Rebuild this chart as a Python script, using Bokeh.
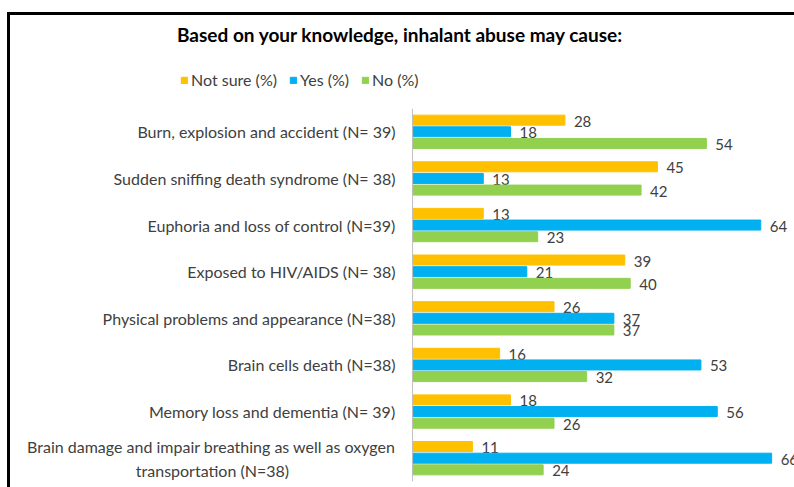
from bokeh.plotting import figure
from bokeh.layouts import column
from bokeh.models import FactorRange, Range1d, Legend, LegendItem, ColumnDataSource, Span
from bokeh.transform import dodge
from bokeh.core.properties import value
from bokeh.embed import file_html
from bokeh.resources import INLINE

title_text = "Based on your knowledge, inhalant  abuse may cause:"
NB = "\u00a0"
categories = [
    "Burn, explosion and accident (N= 39)",
    "Sudden sniffing death syndrome (N= 38)",
    "Euphoria and loss of control (N=39)",
    "Exposed to HIV/AIDS (N= 38)",
    "Physical problems and appearance (N=38)",
    "Brain cells death (N=38)",
    "Memory loss and dementia (N= 39)",
    "Brain damage and impair breathing as well as oxygen transportation (N=38)",
]
# tick labels as drawn (long one wrapped onto two centred lines)
tick_labels = categories[:-1] + [
    "Brain damage and impair breathing as well as oxygen\ntransportation (N=38)" + NB * 26
]
series_names = ["Not sure (%)", "Yes (%)", "No (%)"]
not_sure = [28, 45, 13, 39, 26, 16, 18, 11]
yes = [18, 13, 64, 21, 37, 53, 56, 66]
no = [54, 42, 23, 40, 37, 32, 26, 24]

colors = ["#FFC000", "#00B0F0", "#92D050"]
offsets = [0.25, 0.0, -0.25]
FONT = "Lato"
TXT = "#404040"

src = ColumnDataSource(dict(
    cat=categories, tick=tick_labels,
    ns=not_sure, yes=yes, no=no,
    ns_l=[str(v) for v in not_sure],
    yes_l=[str(v) for v in yes],
    no_l=[str(v) for v in no],
))

# ---- header: title + legend ----
head = figure(width=784, height=93, output_backend="svg", toolbar_location=None,
              x_range=Range1d(0, 1), y_range=Range1d(0, 1),
              min_border_left=0, min_border_right=0, min_border_bottom=0,
              min_border_top=18)
head.axis.visible = False
head.grid.visible = False
head.outline_line_color = None
head.title.text = title_text
head.title.text_font = FONT
head.title.text_font_style = "bold"
head.title.text_font_size = "19px"
head.title.text_color = "#000000"
head.title.align = "center"

items = []
for name, col, col_c in zip(series_names, ["ns", "yes", "no"], colors):
    # legend-only renderers: values lie far outside the header's 0..1 ranges
    rr = head.hbar(y=col, right=col, left=col, height=0.2, color=col_c, source=src)
    items.append(LegendItem(label=name, renderers=[rr]))
legend = Legend(items=items, orientation="horizontal", location=(170, 19),
                border_line_color=None, background_fill_alpha=0,
                label_text_font=FONT, label_text_font_size="16px",
                label_text_color=TXT, glyph_width=8, glyph_height=8,
                spacing=12, padding=4, margin=0, label_standoff=3)
head.add_layout(legend, "center")

# ---- main chart ----
p = figure(width=784, height=379, output_backend="svg", toolbar_location=None,
           y_range=FactorRange(factors=categories[::-1]),
           x_range=Range1d(-73.9, 70.2),
           min_border_left=0, min_border_right=0, min_border_bottom=6,
           min_border_top=0)

for col, lab, col_c, off in zip(["ns", "yes", "no"], ["ns_l", "yes_l", "no_l"],
                                colors, offsets):
    p.hbar(y=dodge("cat", off, range=p.y_range), right=col, left=0,
           height=0.215, color=col_c, source=src)
    p.text(x=col, y=dodge("cat", off, range=p.y_range), text=lab, source=src,
           x_offset=9, y_offset=1, text_baseline="middle", text_align="left",
           text_font=value(FONT), text_font_size="15px", text_color=TXT)

# category (tick) labels, right-aligned against the value axis at 0
p.text(x=0, y="cat", text="tick", source=src, x_offset=-17,
       text_align="right", text_baseline="middle", text_line_height=1.25,
       text_font=value(FONT), text_font_size="16px", text_color=TXT)
p.add_layout(Span(location=0, dimension="height", line_color="#BFBFBF", line_width=1))

p.axis.visible = False
p.grid.visible = False
p.outline_line_color = None

layout = column(head, p, spacing=0,
                styles={"margin-left": "7px", "margin-top": "12px",
                        "border-top": "3px solid black",
                        "border-left": "3px solid black"})

open("out.html", "w").write(file_html(layout, INLINE))
